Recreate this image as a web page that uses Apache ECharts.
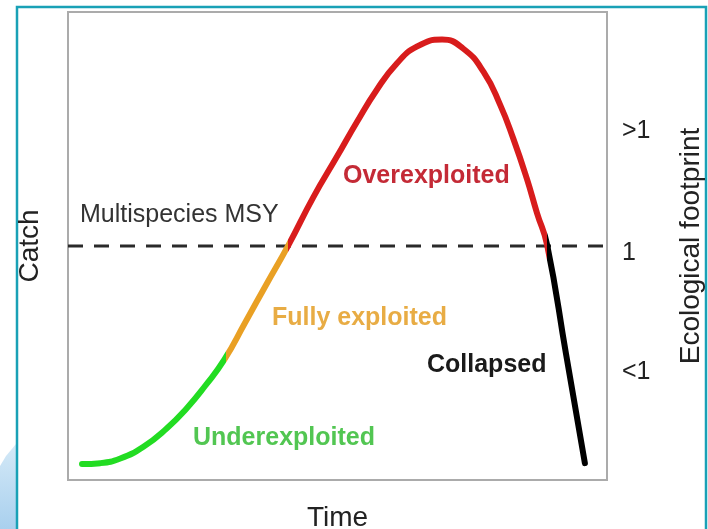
<!DOCTYPE html>
<html>
<head>
<meta charset="utf-8">
<script src="https://cdn.jsdelivr.net/npm/echarts@6/dist/echarts.min.js"></script>
<style>
  html, body { margin: 0; padding: 0; background: #fff; }
  #main { width: 708px; height: 529px; }
</style>
</head>
<body>
<div id="main"></div>
<script>
// time (x) and catch (y), both on a 0-100 scale
const timeValues = [2.6, 6.0, 9.7, 14.0, 18.3, 22.0, 25.5, 29.0, 32.8, 36.9, 40.9, 45.5, 49.9, 53.6, 57.3, 61.0, 64.7, 69.4, 73.3, 77.1, 80.2, 82.6, 85.1, 87.0, 88.9, 92.4, 95.9]
const catchValues = [3.4, 3.6, 4.6, 7.1, 11.0, 15.3, 20.2, 25.7, 33.5, 42.0, 50.2, 60.4, 69.1, 76.5, 83.4, 89.0, 92.6, 94.1, 92.2, 87.2, 80.1, 73.0, 64.5, 57.1, 50.2, 26.9, 3.6]

// where the stages change (time)
const stageBreaks = [29.4, 40.9, 88.9]
const stageNames = ['Underexploited', 'Fully exploited', 'Overexploited', 'Collapsed']

const msyLevel = 50
const footprintValues = [23, 48.5, 74.5]
const footprintLabels = ['<1', '1', '>1']

const FONT = '"Liberation Sans", Arial, Helvetica, sans-serif'

const myChart = echarts.init(document.querySelector('#main'))

const curve = timeValues.map((t, i) => [t, catchValues[i]])

const option = {
    backgroundColor: '#fff',
    animation: false,
    grid: {
        left: 68,
        right: 101,
        top: 12,
        bottom: 49,
        outerBoundsMode: 'none',
        containLabel: false,
        show: true,
        borderColor: '#ababab',
        borderWidth: 2,
        backgroundColor: 'transparent'
    },
    xAxis: {
        type: 'value',
        min: 0,
        max: 100,
        name: 'Time',
        nameLocation: 'middle',
        nameGap: 24,
        nameTextStyle: { fontSize: 28, color: '#222', fontFamily: FONT },
        axisLine: { show: false },
        axisTick: { show: false },
        axisLabel: { show: false },
        splitLine: { show: false }
    },
    yAxis: [
        {
            type: 'value',
            min: 0,
            max: 100,
            name: 'Catch',
            nameLocation: 'middle',
            nameRotate: 90,
            nameGap: 24,
            nameTextStyle: { fontSize: 28, color: '#222', fontFamily: FONT },
            axisLine: { show: false },
            axisTick: { show: false },
            axisLabel: { show: false },
            splitLine: { show: false }
        },
        {
            type: 'value',
            position: 'right',
            min: 0,
            max: 100,
            name: 'Ecological footprint',
            nameLocation: 'middle',
            nameRotate: 90,
            nameGap: 70,
            nameTextStyle: { fontSize: 28, color: '#222', fontFamily: FONT },
            axisLine: { show: false },
            axisTick: { show: false },
            splitLine: { show: false },
            axisLabel: {
                customValues: footprintValues,
                margin: 15,
                fontSize: 25,
                color: '#222',
                fontFamily: FONT,
                formatter: v => footprintLabels[footprintValues.indexOf(v)]
            }
        }
    ],
    visualMap: {
        show: false,
        type: 'piecewise',
        dimension: 0,
        seriesIndex: 1,
        pieces: [
            { lt: stageBreaks[0], color: '#22dc22' },
            { gte: stageBreaks[0], lt: stageBreaks[1], color: '#e9a024' },
            { gte: stageBreaks[1], lt: stageBreaks[2], color: '#d81c1c' },
            { gte: stageBreaks[2], color: '#000' }
        ]
    },
    series: [
        {
            // multispecies MSY
            type: 'line',
            z: 1,
            data: [[0, msyLevel], [100, msyLevel]],
            symbol: 'none',
            silent: true,
            lineStyle: { color: '#2a2a2a', width: 3, type: [15, 11] }
        },
        {
            type: 'line',
            z: 3,
            data: curve,
            smooth: 0.5,
            symbol: 'none',
            lineStyle: { width: 6, cap: 'round', join: 'round' }
        }
    ],
    graphic: [
        // page frame and decoration
        {
            type: 'polygon',
            silent: true,
            shape: { points: [[0, 466], [6, 456], [16, 444], [16, 529], [0, 529]] },
            style: {
                fill: {
                    type: 'linear', x: 0, y: 0, x2: 0, y2: 1,
                    colorStops: [{ offset: 0, color: '#d4e9f7' }, { offset: 1, color: '#a9d0ee' }]
                }
            }
        },
        {
            type: 'rect',
            silent: true,
            shape: { x: 17, y: 7, width: 689, height: 560 },
            style: { fill: 'none', stroke: '#19a1b6', lineWidth: 2.5 }
        },
        {
            type: 'text', left: 80, top: 203, silent: true,
            style: { text: 'Multispecies MSY', fontSize: 25, fill: '#333', fontFamily: FONT }
        },
        {
            type: 'text', left: 343, top: 164, silent: true,
            style: { text: stageNames[2], fontSize: 25, fontWeight: 'bold', fill: '#c42a36', fontFamily: FONT }
        },
        {
            type: 'text', left: 272, top: 306, silent: true,
            style: { text: stageNames[1], fontSize: 25, fontWeight: 'bold', fill: '#e8ac44', fontFamily: FONT }
        },
        {
            type: 'text', left: 427, top: 353, silent: true,
            style: { text: stageNames[3], fontSize: 25, fontWeight: 'bold', fill: '#1a1a1a', fontFamily: FONT }
        },
        {
            type: 'text', left: 193, top: 426, silent: true,
            style: { text: stageNames[0], fontSize: 25, fontWeight: 'bold', fill: '#52c652', fontFamily: FONT }
        }
    ]
}

myChart.setOption(option)
</script>
</body>
</html>
